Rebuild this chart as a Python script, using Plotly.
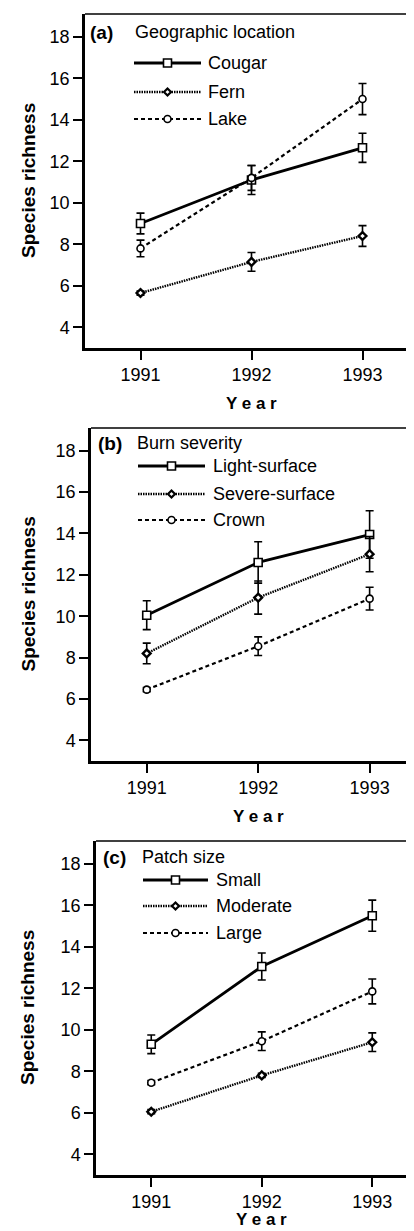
import plotly.graph_objects as go

years = [1991, 1992, 1993]

# Panel (a) Geographic location
a_names = ["Cougar", "Fern", "Lake"]
a_vals = [[9.0, 11.1, 12.65], [5.65, 7.15, 8.4], [7.8, 11.2, 15.0]]
a_errs = [[0.5, 0.7, 0.7], [0.1, 0.45, 0.5], [0.4, 0.6, 0.75]]

# Panel (b) Burn severity
b_names = ["Light-surface", "Severe-surface", "Crown"]
b_vals = [[10.05, 12.6, 13.95], [8.2, 10.9, 13.0], [6.45, 8.55, 10.85]]
b_errs = [[0.7, 1.0, 1.15], [0.5, 0.8, 0.85], [0.1, 0.45, 0.55]]

# Panel (c) Patch size
c_names = ["Small", "Moderate", "Large"]
c_vals = [[9.3, 13.05, 15.5], [6.05, 7.8, 9.4], [7.45, 9.45, 11.85]]
c_errs = [[0.45, 0.65, 0.75], [0.1, 0.1, 0.45], [0.1, 0.45, 0.6]]

panel_labels = ["(a)", "(b)", "(c)"]
panel_titles = ["Geographic location", "Burn severity", "Patch size"]
y_ticks = [4, 6, 8, 10, 12, 14, 16, 18]

W, H = 414, 1231
# pixel boxes: (left, right, top, bottom)
boxes = [(77, 410, 6, 340), (83, 414, 420, 753), (88, 414, 833, 1167)]
xranges = [[1990.5, 1993.5], [1990.5, 1993.47], [1990.5, 1993.45]]

# legend layout in pixels: label x, title x, header y, row ys, line x0, x1, text x
legend_px = [
    dict(lab_x=80, tit_x=125, hy=24, rows=[55, 84, 111], lx0=126, lx1=193, tx=198),
    dict(lab_x=88, tit_x=127, hy=435, rows=[458, 486, 512], lx0=130, lx1=197, tx=203),
    dict(lab_x=93, tit_x=132, hy=849, rows=[872, 898, 925], lx0=135, lx1=200, tx=206),
]

line_styles = [
    dict(color="black", width=2.8, dash="solid"),
    dict(color="black", width=2.4, dash="1.5px,1px"),
    dict(color="black", width=2.2, dash="4px,3px"),
]
marker_styles = [
    dict(symbol="square", size=8, color="white", line=dict(color="black", width=1.6)),
    dict(symbol="diamond", size=6, color="white", line=dict(color="black", width=2.4)),
    dict(symbol="circle", size=7, color="white", line=dict(color="black", width=1.6)),
]

FONT = "Liberation Sans, Arial, sans-serif"
fig = go.Figure()
layout = dict(width=W, height=H, margin=dict(l=0, r=0, t=0, b=0),
              plot_bgcolor="white", paper_bgcolor="white", showlegend=False,
              font=dict(family=FONT, color="black"))
annotations = []
shapes = []


def px(x):
    return x / W


def py(y):
    return 1 - y / H


panels = [(a_names, a_vals, a_errs), (b_names, b_vals, b_errs), (c_names, c_vals, c_errs)]
for i, (names, vals, errs) in enumerate(panels):
    l, r, t, b = boxes[i]
    xa = "x" if i == 0 else f"x{i+1}"
    ya = "y" if i == 0 else f"y{i+1}"
    for j in range(3):
        fig.add_trace(go.Scatter(
            x=years, y=vals[j], name=names[j], mode="lines+markers",
            error_y=dict(type="data", array=errs[j], color="black", thickness=1.6, width=4),
            xaxis=xa, yaxis=ya, line=line_styles[j], marker=marker_styles[j]))
    axk = "xaxis" if i == 0 else f"xaxis{i+1}"
    ayk = "yaxis" if i == 0 else f"yaxis{i+1}"
    layout[axk] = dict(domain=[l / W, r / W], range=xranges[i], anchor=ya,
                       tickvals=years, ticktext=[str(y) for y in years],
                       ticks="outside", ticklen=9, tickwidth=2, tickcolor="black",
                       showline=True, linewidth=2.5, linecolor="black",
                       showgrid=False, zeroline=False,
                       tickfont=dict(size=18, family=FONT))
    layout[ayk] = dict(domain=[1 - b / H, 1 - t / H], range=[3, 19.1], anchor=xa,
                       tickvals=y_ticks, ticks="outside", ticklen=9, tickwidth=2,
                       tickcolor="black", showline=True, linewidth=2.5, linecolor="black",
                       showgrid=False, zeroline=False,
                       tickfont=dict(size=18, family=FONT))
    # top/right thin frame
    shapes.append(dict(type="line", xref=f"{xa} domain", yref=f"{ya} domain",
                       x0=0, x1=1, y0=1, y1=1, line=dict(color="black", width=1.5)))
    shapes.append(dict(type="line", xref=f"{xa} domain", yref=f"{ya} domain",
                       x0=1, x1=1, y0=0, y1=1, line=dict(color="black", width=2)))

    # legend drawn manually (long line samples)
    L = legend_px[i]
    annotations.append(dict(xref="paper", yref="paper", x=px(L["lab_x"]), y=py(L["hy"]),
                            text=f"<b>{panel_labels[i]}</b>", showarrow=False,
                            xanchor="left", yanchor="middle", font=dict(size=19, family=FONT)))
    annotations.append(dict(xref="paper", yref="paper", x=px(L["tit_x"]), y=py(L["hy"]),
                            text=panel_titles[i], showarrow=False,
                            xanchor="left", yanchor="middle", font=dict(size=18, family=FONT)))
    for j in range(3):
        ry = L["rows"][j]
        shapes.append(dict(type="line", xref="paper", yref="paper",
                           x0=px(L["lx0"]), x1=px(L["lx1"]), y0=py(ry), y1=py(ry),
                           line=line_styles[j]))
        cx = (L["lx0"] + L["lx1"]) / 2
        if j == 0:
            shapes.append(dict(type="rect", xref="paper", yref="paper",
                               x0=px(cx - 4), x1=px(cx + 4), y0=py(ry - 4), y1=py(ry + 4),
                               fillcolor="white", line=dict(color="black", width=1.6)))
        elif j == 1:
            d = 3.5
            path = (f"M{px(cx - d)},{py(ry)} L{px(cx)},{py(ry - d)} "
                    f"L{px(cx + d)},{py(ry)} L{px(cx)},{py(ry + d)} Z")
            shapes.append(dict(type="path", xref="paper", yref="paper", path=path,
                               fillcolor="white", line=dict(color="black", width=2.2)))
        else:
            shapes.append(dict(type="circle", xref="paper", yref="paper",
                               x0=px(cx - 3.5), x1=px(cx + 3.5), y0=py(ry - 3.5), y1=py(ry + 3.5),
                               fillcolor="white", line=dict(color="black", width=1.6)))
        annotations.append(dict(xref="paper", yref="paper", x=px(L["tx"]), y=py(ry),
                                text=names[j], showarrow=False,
                                xanchor="left", yanchor="middle", font=dict(size=18, family=FONT)))

    # axis titles
    annotations.append(dict(xref="paper", yref="paper", x=px(20), y=py((t + b) / 2),
                            text="<b>Species richness</b>", textangle=-90, showarrow=False,
                            xanchor="center", yanchor="middle", font=dict(size=19, family=FONT)))
    xc = (l + (r - l) * (1992 - xranges[i][0]) / (xranges[i][1] - xranges[i][0])) / W
    annotations.append(dict(xref="paper", yref="paper", x=xc, y=py(min(b + 55, 1211)),
                            text="<b>Y e a r</b>", showarrow=False,
                            xanchor="center", yanchor="middle", font=dict(size=17, family=FONT)))

layout["annotations"] = annotations
layout["shapes"] = shapes
fig.update_layout(**layout)
fig.write_html("out.html")
